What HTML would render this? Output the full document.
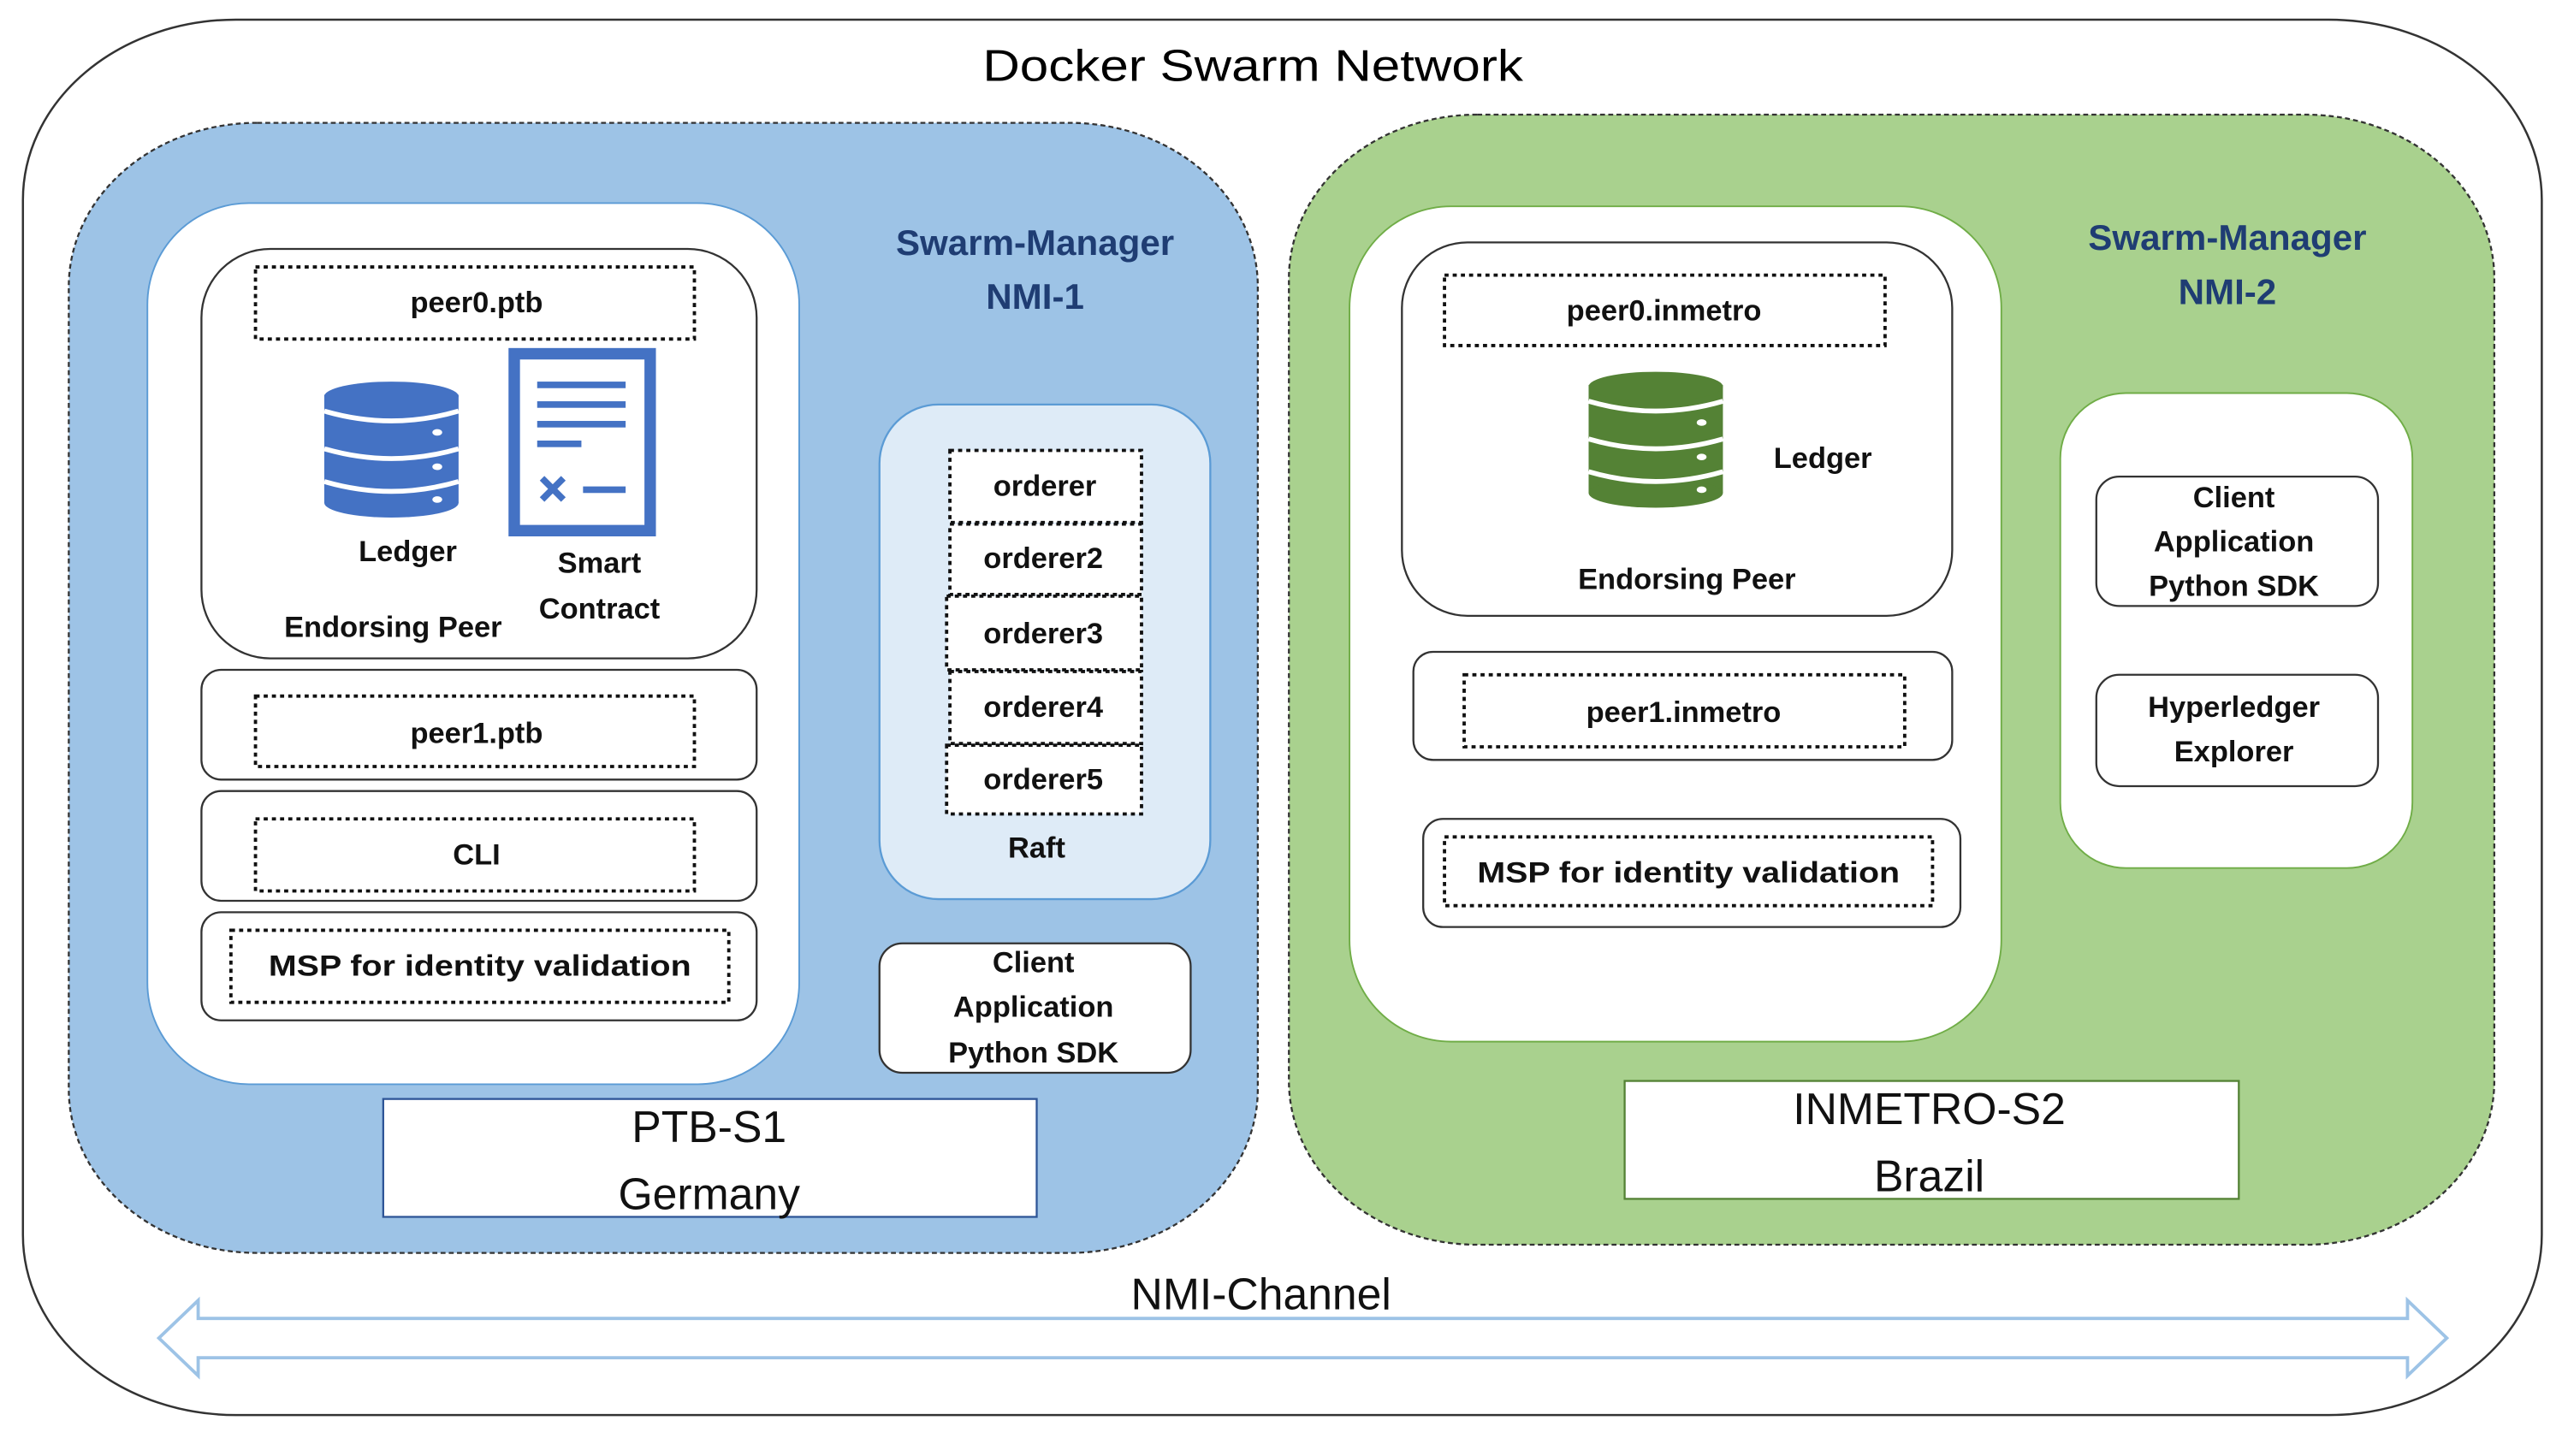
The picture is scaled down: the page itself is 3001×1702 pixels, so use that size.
<!DOCTYPE html>
<html><head><meta charset="utf-8"><style>html,body{margin:0;padding:0;background:#fff}svg{display:block}</style></head>
<body>
<svg width="3001" height="1702" viewBox="0 0 1568 889" preserveAspectRatio="none" xmlns="http://www.w3.org/2000/svg" font-family="Liberation Sans, sans-serif">
<defs>
<g id="db">
  <rect x="0" y="8" width="82" height="66" fill="currentColor"/>
  <ellipse cx="41" cy="74" rx="41" ry="9" fill="currentColor"/>
  <ellipse cx="41" cy="9" rx="41" ry="9" fill="currentColor"/>
  <path d="M0 18 Q41 30 82 18" stroke="#fff" stroke-width="3" fill="none"/>
  <path d="M0 41 Q41 53 82 41" stroke="#fff" stroke-width="3" fill="none"/>
  <path d="M0 61 Q41 73 82 61" stroke="#fff" stroke-width="3" fill="none"/>
  <ellipse cx="69" cy="31" rx="3" ry="2" fill="#fff"/>
  <ellipse cx="69" cy="52" rx="3" ry="2" fill="#fff"/>
  <ellipse cx="69" cy="72" rx="3" ry="2" fill="#fff"/>
</g>
</defs>
<rect x="14" y="12" width="1538" height="852" rx="130" ry="110" fill="#fff" stroke="#333" stroke-width="1.3"/>
<text x="765" y="40" font-size="27" text-anchor="middle" dominant-baseline="central" textLength="330" lengthAdjust="spacingAndGlyphs">Docker Swarm Network</text>

<!-- Blue region -->
<rect x="42" y="75" width="726" height="690" rx="115" ry="100" fill="#9dc3e6" stroke="#333" stroke-width="1.2" stroke-dasharray="3,2"/>
<rect x="90" y="124" width="398" height="538" rx="62" fill="#fff" stroke="#5b9bd5" stroke-width="1"/>
<rect x="123" y="152" width="339" height="250" rx="42" fill="#fff" stroke="#333" stroke-width="1.2"/>
<rect x="156" y="163" width="268" height="44" fill="#fff" stroke="#111" stroke-width="2" stroke-dasharray="2.5,2.5"/>
<g font-weight="bold" font-size="18" text-anchor="middle" dominant-baseline="central" fill="#111">
<text x="291" y="185">peer0.ptb</text>
</g>
<g transform="translate(198,233)" color="#4472c4"><use href="#db"/></g>
<rect x="314" y="216" width="83" height="108" fill="#fff" stroke="#4472c4" stroke-width="7"/>
<rect x="328" y="233" width="54" height="4" fill="#4472c4"/>
<rect x="328" y="245" width="54" height="4" fill="#4472c4"/>
<rect x="328" y="257" width="54" height="4" fill="#4472c4"/>
<rect x="328" y="269" width="27" height="4" fill="#4472c4"/>
<path d="M331 292 L344 305 M344 292 L331 305" stroke="#4472c4" stroke-width="4"/>
<rect x="356" y="297" width="26" height="4" fill="#4472c4"/>
<g font-weight="bold" font-size="18" text-anchor="middle" dominant-baseline="central" fill="#111">
<text x="249" y="337">Ledger</text>
<text x="366" y="344">Smart</text>
<text x="366" y="372">Contract</text>
<text x="240" y="383">Endorsing Peer</text>
</g>
<rect x="123" y="409" width="339" height="67" rx="12" fill="#fff" stroke="#333" stroke-width="1.2"/>
<rect x="156" y="425" width="268" height="43" fill="#fff" stroke="#111" stroke-width="2" stroke-dasharray="2.5,2.5"/>
<rect x="123" y="483" width="339" height="67" rx="12" fill="#fff" stroke="#333" stroke-width="1.2"/>
<rect x="156" y="500" width="268" height="44" fill="#fff" stroke="#111" stroke-width="2" stroke-dasharray="2.5,2.5"/>
<rect x="123" y="557" width="339" height="66" rx="12" fill="#fff" stroke="#333" stroke-width="1.2"/>
<rect x="141" y="568" width="304" height="44" fill="#fff" stroke="#111" stroke-width="2" stroke-dasharray="2.5,2.5"/>
<g font-weight="bold" font-size="18" text-anchor="middle" dominant-baseline="central" fill="#111">
<text x="291" y="448">peer1.ptb</text>
<text x="291" y="522">CLI</text>
<text x="293" y="590" textLength="258" lengthAdjust="spacingAndGlyphs">MSP for identity validation</text>
</g>
<g font-weight="bold" font-size="22" text-anchor="middle" dominant-baseline="central" fill="#1f3d73">
<text x="632" y="148">Swarm-Manager</text>
<text x="632" y="181">NMI-1</text>
</g>
<rect x="537" y="247" width="202" height="302" rx="36" fill="#deebf7" stroke="#5b9bd5" stroke-width="1.2"/>
<g fill="#fff" stroke="#111" stroke-width="2" stroke-dasharray="2.5,2.5">
<rect x="580" y="275" width="117" height="44"/>
<rect x="580" y="320" width="117" height="43"/>
<rect x="578" y="364" width="119" height="45"/>
<rect x="580" y="410" width="117" height="44"/>
<rect x="578" y="455" width="119" height="42"/>
</g>
<g font-weight="bold" font-size="18" text-anchor="middle" dominant-baseline="central" fill="#111">
<text x="638" y="297">orderer</text>
<text x="637" y="341">orderer2</text>
<text x="637" y="387">orderer3</text>
<text x="637" y="432">orderer4</text>
<text x="637" y="476">orderer5</text>
<text x="633" y="518">Raft</text>
</g>
<rect x="537" y="576" width="190" height="79" rx="14" fill="#fff" stroke="#333" stroke-width="1.2"/>
<g font-weight="bold" font-size="18" text-anchor="middle" dominant-baseline="central" fill="#111">
<text x="631" y="588">Client</text>
<text x="631" y="615">Application</text>
<text x="631" y="643">Python SDK</text>
</g>
<rect x="234" y="671" width="399" height="72" fill="#fff" stroke="#2e5597" stroke-width="1.2"/>
<g font-size="27" text-anchor="middle" dominant-baseline="central" fill="#111">
<text x="433" y="688">PTB-S1</text>
<text x="433" y="729">Germany</text>
</g>

<!-- Green region -->
<rect x="787" y="70" width="736" height="690" rx="115" ry="100" fill="#a9d18e" stroke="#333" stroke-width="1.2" stroke-dasharray="3,2"/>
<rect x="824" y="126" width="398" height="510" rx="62" fill="#fff" stroke="#70ad47" stroke-width="1"/>
<rect x="856" y="148" width="336" height="228" rx="40" fill="#fff" stroke="#333" stroke-width="1.2"/>
<rect x="882" y="168" width="269" height="43" fill="#fff" stroke="#111" stroke-width="2" stroke-dasharray="2.5,2.5"/>
<g transform="translate(970,227)" color="#548235"><use href="#db"/></g>
<rect x="863" y="398" width="329" height="66" rx="12" fill="#fff" stroke="#333" stroke-width="1.2"/>
<rect x="894" y="412" width="269" height="44" fill="#fff" stroke="#111" stroke-width="2" stroke-dasharray="2.5,2.5"/>
<rect x="869" y="500" width="328" height="66" rx="12" fill="#fff" stroke="#333" stroke-width="1.2"/>
<rect x="882" y="511" width="298" height="42" fill="#fff" stroke="#111" stroke-width="2" stroke-dasharray="2.5,2.5"/>
<g font-weight="bold" font-size="18" text-anchor="middle" dominant-baseline="central" fill="#111">
<text x="1016" y="190">peer0.inmetro</text>
<text x="1113" y="280">Ledger</text>
<text x="1030" y="354">Endorsing Peer</text>
<text x="1028" y="435">peer1.inmetro</text>
<text x="1031" y="533" textLength="258" lengthAdjust="spacingAndGlyphs">MSP for identity validation</text>
</g>
<g font-weight="bold" font-size="22" text-anchor="middle" dominant-baseline="central" fill="#1f3d73">
<text x="1360" y="145">Swarm-Manager</text>
<text x="1360" y="178">NMI-2</text>
</g>
<rect x="1258" y="240" width="215" height="290" rx="40" fill="#fff" stroke="#70ad47" stroke-width="1"/>
<rect x="1280" y="291" width="172" height="79" rx="14" fill="#fff" stroke="#333" stroke-width="1.2"/>
<rect x="1280" y="412" width="172" height="68" rx="14" fill="#fff" stroke="#333" stroke-width="1.2"/>
<g font-weight="bold" font-size="18" text-anchor="middle" dominant-baseline="central" fill="#111">
<text x="1364" y="304">Client</text>
<text x="1364" y="331">Application</text>
<text x="1364" y="358">Python SDK</text>
<text x="1364" y="432">Hyperledger</text>
<text x="1364" y="459">Explorer</text>
</g>
<rect x="992" y="660" width="375" height="72" fill="#fff" stroke="#548235" stroke-width="1.2"/>
<g font-size="27" text-anchor="middle" dominant-baseline="central" fill="#111">
<text x="1178" y="677">INMETRO-S2</text>
<text x="1178" y="718">Brazil</text>
</g>

<!-- Channel -->
<text x="770" y="790" font-size="27" text-anchor="middle" dominant-baseline="central" fill="#111">NMI-Channel</text>
<path d="M97 817 L121 794 L121 805 L1470 805 L1470 794 L1494 817 L1470 840 L1470 829 L121 829 L121 840 Z" fill="#fff" stroke="#9dc3e6" stroke-width="2"/>
</svg>
</body></html>
